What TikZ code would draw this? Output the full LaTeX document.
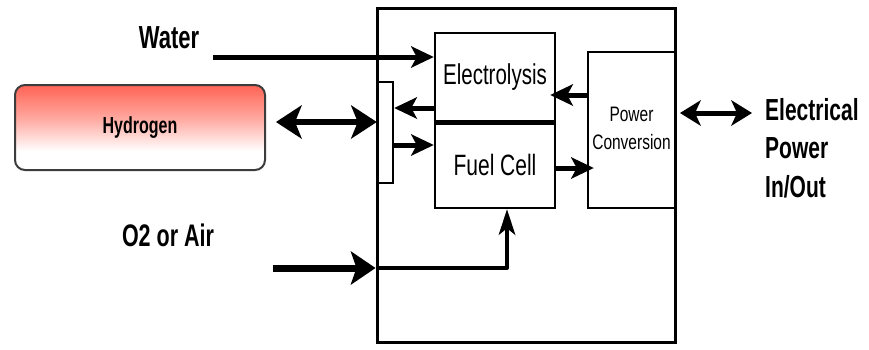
\documentclass[tikz,border=0pt]{standalone}
\usepackage{fontspec}
\setmainfont{Liberation Sans}
\usepackage{graphicx}
\usetikzlibrary{arrows.meta}
\definecolor{hydred}{RGB}{255,100,85}
\definecolor{hydborder}{RGB}{60,60,60}
\pgfdeclareverticalshading{hydshade}{100bp}{color(0bp)=(white); color(36bp)=(white); color(55bp)=(hydred!55!white); color(75bp)=(hydred); color(100bp)=(hydred)}
\newcommand\vstretch[2][1.45]{\scalebox{1}[#1]{#2}}
\tikzset{
  box/.style={draw, line width=2.5pt, inner sep=0pt},
  arr/.style={line width=5pt, -{Stealth[length=23pt,width=22pt,inset=6pt,line width=0pt]}},
  bigarr/.style={line width=7pt, -{Stealth[length=25pt,width=34pt,inset=6pt,line width=0pt]}},
  dblarr/.style={line width=6pt, {Stealth[length=26pt,width=34pt,inset=7pt,line width=0pt]}-{Stealth[length=26pt,width=34pt,inset=7pt,line width=0pt]}},
  elarr/.style={line width=5pt, {Stealth[length=21pt,width=26pt,inset=6pt,line width=0pt]}-{Stealth[length=21pt,width=26pt,inset=6pt,line width=0pt]}},
  uparr/.style={line width=4pt, -{Stealth[length=26pt,width=17pt,inset=7pt,line width=0pt]}},
  lbl/.style={inner sep=0pt},
}
\begin{document}
\begin{tikzpicture}[x=1pt,y=-1pt]
\useasboundingbox[fill=white] (0,0) rectangle (869,349);
% hydrogen tank
\node[draw=hydborder, line width=2pt, rounded corners=10pt, shading=hydshade,
      minimum width=250pt, minimum height=85pt, inner sep=0pt] (hyd) at (140,127.5)
      {\vstretch{\fontsize{16}{19}\selectfont\bfseries Hydrogen}};
% system enclosure
\node[box, line width=3pt, minimum width=298pt, minimum height=334pt] (sys) at (526,175) {};
% manifold
\node[box, fill=white, minimum width=15pt, minimum height=101pt] (man) at (385.5,132.5) {};
% electrolysis / fuel cell
\node[box, minimum width=120pt, minimum height=88pt] (elec) at (495,77)
      {\vstretch[1.4]{\fontsize{20.5}{24}\selectfont Electrolysis}};
\node[box, minimum width=120pt, minimum height=87pt] (fuel) at (495,164.5)
      {\vstretch[1.4]{\fontsize{21}{24}\selectfont Fuel Cell}};
\draw[line width=4.5pt] (elec.south west) -- (elec.south east);
% power conversion
\node[box, minimum width=87pt, minimum height=156pt, align=center] (power) at (631.5,130)
      {\vstretch[1.35]{\fontsize{15.5}{20.7}\selectfont\begin{tabular}{@{}c@{}}Power\\Conversion\end{tabular}}};
% labels
\node[lbl] (water) at (169,38) {\vstretch{\fontsize{22}{26}\selectfont\bfseries Water}};
\node[lbl] (o2) at (168,235) {\vstretch{\fontsize{21.5}{26}\selectfont\bfseries O2 or Air}};
\node[lbl, anchor=west] (elecpow) at (765,151)
      {\vstretch{\fontsize{21}{26.5}\selectfont\bfseries\begin{tabular}{@{}l@{}}Electrical\\Power\\In/Out\end{tabular}}};
% connectors
\coordinate (wstart) at (213,57);
\draw[arr] (wstart) -- (wstart -| elec.west);
\draw[arr] ([yshift=-31pt]elec.west) -- ([yshift=-31pt]elec.west -| man.east);
\draw[arr] ([yshift=19.5pt]fuel.west -| man.east) -- ([yshift=19.5pt]fuel.west);
\draw[arr] ([yshift=35pt]power.west) -- ([yshift=35pt,xshift=-6pt]power.west -| elec.east);
\draw[arr] ([yshift=-3.5pt]fuel.east) -- ([yshift=-3.5pt,xshift=7pt]fuel.east -| power.west);
\draw[dblarr] ([xshift=10pt,yshift=5.5pt]hyd.east) -- ([yshift=5.5pt]hyd.east -| man.west);
\coordinate (o2start) at (273,268);
\draw[bigarr] (o2start) -- (o2start -| sys.west);
\draw[uparr, line join=round] (o2start -| sys.west) -| ([xshift=12pt]fuel.south);
\coordinate (elA) at (680,113);
\draw[elarr] (elA) -- ([xshift=-13pt]elA -| elecpow.west);
\end{tikzpicture}
\end{document}
